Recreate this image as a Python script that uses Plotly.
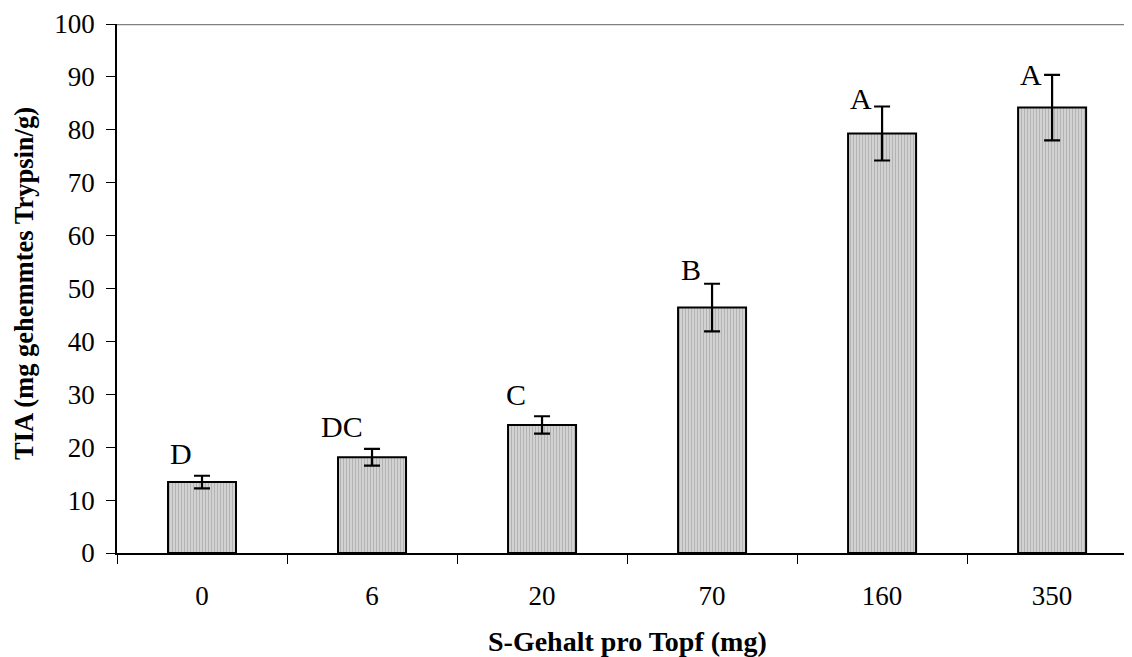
import plotly.graph_objects as go

categories = ["0", "6", "20", "70", "160", "350"]
tia_mean = [13.4, 18.1, 24.2, 46.4, 79.3, 84.2]
tia_err = [1.2, 1.6, 1.65, 4.5, 5.1, 6.2]
group_letters = ["D", "DC", "C", "B", "A", "A"]
y_ticks = [0, 10, 20, 30, 40, 50, 60, 70, 80, 90, 100]

FONT = "Liberation Serif, Times New Roman, serif"

fig = go.Figure()
fig.add_trace(go.Bar(
    x=categories,
    y=tia_mean,
    width=0.4,
    marker=dict(
        color="#d0d0d0",
        line=dict(color="black", width=2),
        pattern=dict(shape="|", size=3, solidity=0.35,
                     fgcolor="#949494", bgcolor="#d2d2d2", fillmode="overlay"),
    ),
    error_y=dict(type="data", array=tia_err, visible=True,
                 color="black", thickness=2.2, width=8),
    showlegend=False,
))

# significance letters
label_xshift = [-21, -30, -26, -21, -21, -21]
label_yshift = [4, 4, 3, -4, -10, -18]
for i, (m, e, txt) in enumerate(zip(tia_mean, tia_err, group_letters)):
    fig.add_annotation(
        x=i, y=m + e, text=txt, showarrow=False,
        xanchor="center", yanchor="bottom",
        xshift=label_xshift[i], yshift=label_yshift[i],
        font=dict(family=FONT, size=30, color="black"),
    )

# top gray line at 100
fig.add_shape(type="line", xref="paper", yref="y", x0=0, x1=1, y0=100, y1=100,
              line=dict(color="#808080", width=2.5))

fig.add_annotation(
    xref="paper", yref="paper", x=0.5025, y=-0.168,
    text="<b>S-Gehalt pro Topf (mg)</b>", showarrow=False,
    xanchor="center", yanchor="middle",
    font=dict(family=FONT, size=28, color="black"),
)
fig.add_annotation(
    xref="paper", yref="paper", x=-0.0916, y=0.5085,
    text="<b>TIA (mg gehemmtes Trypsin/g)</b>", showarrow=False,
    textangle=-90, xanchor="center", yanchor="middle",
    font=dict(family=FONT, size=26.5, color="black"),
)

# page body has an 8px margin, so the figure is sized/offset to compensate
fig.update_layout(
    width=1124, height=649,
    margin=dict(l=109, r=0, t=16, b=104),
    paper_bgcolor="white", plot_bgcolor="white",
    font=dict(family=FONT, size=27, color="black"),
    bargap=0.6,
)
fig.update_xaxes(
    type="category",
    range=[-0.5, 5.47],
    showline=True, linecolor="black", linewidth=1.5,
    ticks="outside", tickson="boundaries", ticklen=9, tickwidth=1.3, tickcolor="black",
    showgrid=False, zeroline=False,
    tickfont=dict(family=FONT, size=27, color="black"),
    ticklabelstandoff=18,
)
fig.update_yaxes(
    range=[0, 100],
    tickvals=y_ticks,
    showline=True, linecolor="black", linewidth=1.5,
    ticks="outside", ticklen=9, tickwidth=1.3, tickcolor="black",
    showgrid=False, zeroline=False,
    tickfont=dict(family=FONT, size=27, color="black"),
    ticklabelstandoff=6,
)

fig.write_html("out.html")
